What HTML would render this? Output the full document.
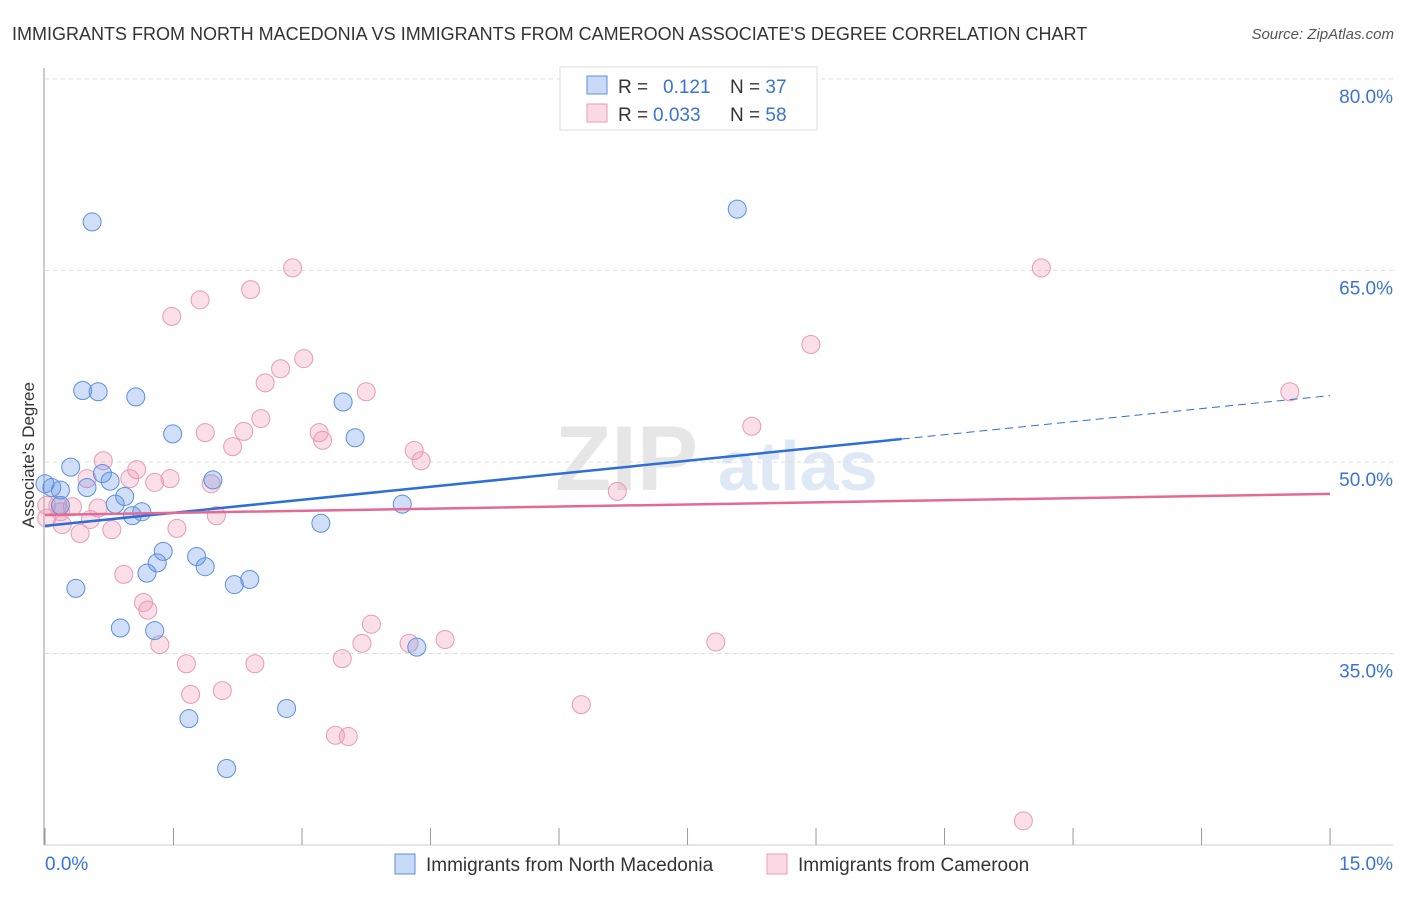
<!DOCTYPE html>
<html><head><meta charset="utf-8"><style>
body{margin:0;background:#fff;font-family:"Liberation Sans",sans-serif;}
svg text{font-family:"Liberation Sans",sans-serif;}
</style></head><body>
<svg id="chart" width="1406" height="892" xmlns="http://www.w3.org/2000/svg">
<text x="12" y="40" font-size="18" fill="#333">IMMIGRANTS FROM NORTH MACEDONIA VS IMMIGRANTS FROM CAMEROON ASSOCIATE'S DEGREE CORRELATION CHART</text>
<text x="1394" y="39" font-size="15" fill="#555" text-anchor="end" font-style="italic">Source: ZipAtlas.com</text>
<g><text x="555" y="490" font-size="92" fill="#e6e6e6" font-family="Liberation Serif" font-weight="bold">ZIP</text><text x="718" y="490" font-size="70" fill="#dfe8f5" font-weight="bold">atlas</text></g>
<g id="grid"></g><g id="axes"></g><g id="marks"></g>
<text transform="translate(34,455) rotate(-90)" font-size="17" fill="#333" text-anchor="middle">Associate's Degree</text>
<g>
<rect x="560" y="67" width="257" height="63" fill="#fff" stroke="#ddd"/>
<rect x="587" y="76" width="20" height="18" fill="rgba(100,150,230,0.35)" stroke="#5b8fdf"/>
<rect x="587" y="104" width="20" height="18" fill="rgba(240,150,180,0.35)" stroke="#e89ab5"/>
<text x="618" y="93" font-size="19" fill="#333">R = <tspan fill="#3a72d8" x="663">0.121</tspan><tspan fill="#333" x="730">N = </tspan><tspan fill="#3a72d8">37</tspan></text>
<text x="618" y="121" font-size="19" fill="#333">R = <tspan fill="#3a72d8" x="653">0.033</tspan><tspan fill="#333" x="730">N = </tspan><tspan fill="#3a72d8">58</tspan></text>
</g>
<g>
<rect x="395" y="854" width="20" height="20" fill="rgba(100,150,230,0.35)" stroke="#5b8fdf"/>
<text x="426" y="871" font-size="19" fill="#333">Immigrants from North Macedonia</text>
<rect x="767" y="854" width="20" height="20" fill="rgba(240,150,180,0.35)" stroke="#e89ab5"/>
<text x="798" y="871" font-size="19" fill="#333">Immigrants from Cameroon</text>
</g>
</svg>
<script>
const blueX=[0.55,8.08,0.44,0.62,1.06,1.49,3.48,3.62,0.30,0.67,0.49,0.08,0.0,0.76,0.93,0.82,1.13,1.02,1.96,0.18,3.22,4.17,1.38,1.31,1.77,1.87,1.19,2.21,2.39,0.36,0.88,1.28,4.34,1.68,2.82,2.12,0.18];
const blueY=[68.8,69.8,55.6,55.5,55.1,52.2,54.7,51.9,49.6,49.1,48.0,48.0,48.3,48.5,47.3,46.7,46.1,45.8,48.6,46.6,45.2,46.7,43.0,42.1,42.6,41.8,41.3,40.4,40.8,40.1,37.0,36.8,35.5,29.9,30.7,26.0,47.8];
const pinkX=[11.63,14.53,8.94,8.25,11.42,2.89,2.40,1.81,1.48,3.02,2.75,2.57,3.75,2.52,2.32,1.87,3.20,3.24,2.19,4.31,4.39,0.68,1.07,0.99,1.28,1.46,1.94,6.68,0.49,0.32,0.15,0.02,0.20,0.41,0.53,0.62,0.78,1.54,2.00,0.18,0.92,1.15,1.20,1.34,1.65,1.70,2.07,2.45,3.47,3.70,3.81,4.25,4.67,6.26,3.39,3.54,7.83,0.02];
const pinkY=[65.2,55.5,59.2,52.8,21.9,65.2,63.5,62.7,61.4,58.1,57.3,56.2,55.5,53.4,52.4,52.3,52.3,51.7,51.2,50.9,50.1,50.1,49.4,48.7,48.4,48.7,48.3,47.7,48.7,46.5,46.6,45.6,45.1,44.4,45.5,46.4,44.7,44.8,45.8,46.1,41.2,39.0,38.4,35.7,34.2,31.8,32.1,34.2,34.6,35.8,37.3,35.8,36.1,31.0,28.6,28.5,35.9,46.6];
const blueTrend=[45.0,55.2], blueSolidEnd=10.0;
const pinkTrend=[45.85,47.5];
const yTicks=[80,65,50,35];
const xTickLabels=["0.0%","15.0%"];
const NS="http://www.w3.org/2000/svg";
const xs=v=>45+v*85.67, ys=v=>462-(v-50)*12.77;
function mk(tag,attrs,parent){const e=document.createElementNS(NS,tag);for(const k in attrs)e.setAttribute(k,attrs[k]);document.getElementById(parent).appendChild(e);return e;}
yTicks.forEach(t=>{
  const l=mk('line',{x1:45,x2:1393,y1:ys(t),y2:ys(t),stroke:'#ddd','stroke-dasharray':'4,4'},'grid');
  
  
  const tx=mk('text',{x:1393,y:ys(t)+24,'font-size':19,fill:'#3a72d8','text-anchor':'end'},'grid');
  tx.textContent=t.toFixed(1)+'%';
  
  
});
const ax=mk('line',{x1:44,x2:44,y1:68,y2:845,stroke:'#999'},'axes');


const bx=mk('line',{x1:44,x2:1393,y1:845,y2:845,stroke:'#ccc'},'axes');


for(let i=0;i<=10;i++){const v=i*1.5;
  const t=mk('line',{x1:xs(v),x2:xs(v),y1:828,y2:845,stroke:'#999'},'axes');
  
  }
[[0,'start'],[15,'end']].forEach((p,i)=>{
  const t=mk('text',{x:i?1393:45,y:870,'font-size':19,fill:'#3a72d8','text-anchor':p[1]},'axes');
  t.textContent=xTickLabels[i];
  
  });
pinkX.forEach((x,i)=>{
  const c=mk('circle',{cx:xs(x),cy:ys(pinkY[i]),r:9,fill:'rgba(240,150,180,0.3)',stroke:'#e89ab5','stroke-width':1},'marks');
  
  });
blueX.forEach((x,i)=>{
  const c=mk('circle',{cx:xs(x),cy:ys(blueY[i]),r:9,fill:'rgba(100,150,230,0.3)',stroke:'#5b8fdf','stroke-width':1},'marks');
  
  });
const bAt=v=>blueTrend[0]+(blueTrend[1]-blueTrend[0])*v/15;
const l1=mk('line',{x1:xs(0),y1:ys(bAt(0)),x2:xs(blueSolidEnd),y2:ys(bAt(blueSolidEnd)),stroke:'#2d6fd6','stroke-width':2.5},'marks');


const l2=mk('line',{x1:xs(blueSolidEnd),y1:ys(bAt(blueSolidEnd)),x2:xs(15),y2:ys(bAt(15)),stroke:'#2d6fd6','stroke-width':1,'stroke-dasharray':'8,5'},'marks');


const l3=mk('line',{x1:xs(0),y1:ys(pinkTrend[0]),x2:xs(15),y2:ys(pinkTrend[1]),stroke:'#e46a96','stroke-width':2.5},'marks');


</script>
</body></html>
